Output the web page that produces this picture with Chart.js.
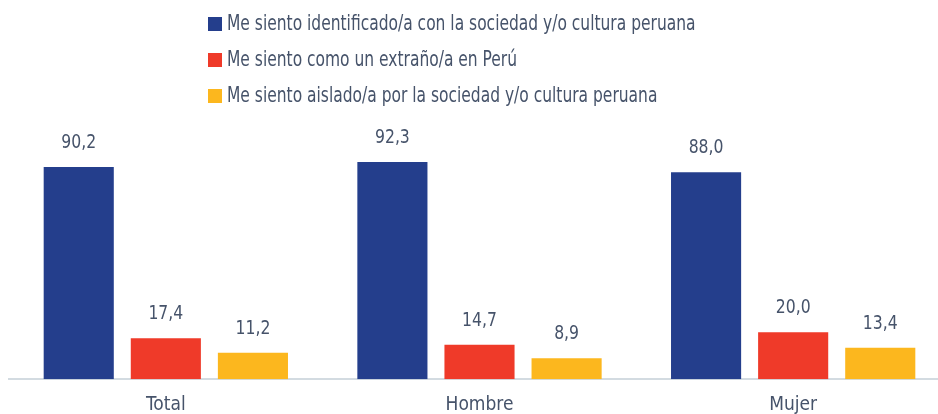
<!DOCTYPE html>
<html>
<head>
<meta charset="utf-8">
<script src="https://cdn.jsdelivr.net/npm/chart.js@4/dist/chart.umd.min.js"></script>
<style>
  html, body { margin: 0; padding: 0; background: #fff; overflow: hidden; }
  #wrap { width: 938px; height: 414px; overflow: hidden; }
</style>
</head>
<body>
<div id="wrap"><canvas id="myChart" width="950" height="430"></canvas></div>
<script>
var categories = ['Total', 'Hombre', 'Mujer'];
var identificadoArray = [90.2, 92.3, 88.0];
var extranoArray = [17.4, 14.7, 20.0];
var aisladoArray = [11.2, 8.9, 13.4];
var seriesNames = [
  'Me siento identificado/a con la sociedad y/o cultura peruana',
  'Me siento como un extraño/a en Perú',
  'Me siento aislado/a por la sociedad y/o cultura peruana'
];

var FONT = "'DejaVu Sans Condensed', 'Liberation Sans Narrow', sans-serif";
var TEXT = '#46536a';

// text squeezed sideways to get closer to the condensed face of the original
function narrowText(ctx, text, x, y, sx) {
  ctx.save();
  ctx.translate(x, y);
  ctx.scale(sx, 1);
  ctx.fillText(text, 0, 0);
  ctx.restore();
}

// value labels over each bar, comma decimals
var valueLabels = {
  id: 'valueLabels',
  afterDatasetsDraw: function(chart) {
    var ctx = chart.ctx;
    ctx.save();
    ctx.font = '20px ' + FONT;
    ctx.fillStyle = TEXT;
    ctx.textAlign = 'center';
    ctx.textBaseline = 'bottom';
    chart.data.datasets.forEach(function(ds, i) {
      chart.getDatasetMeta(i).data.forEach(function(bar, j) {
        narrowText(ctx, ds.data[j].toFixed(1).replace('.', ','), bar.x, bar.y - 14, 0.87);
      });
    });
    ctx.restore();
  }
};

// vertical legend on top
var stackedLegend = {
  id: 'stackedLegend',
  afterDraw: function(chart) {
    var ctx = chart.ctx;
    ctx.save();
    ctx.font = '21px ' + FONT;
    ctx.textBaseline = 'middle';
    chart.data.datasets.forEach(function(ds, i) {
      var y = 24 + i * 36;
      ctx.fillStyle = ds.backgroundColor;
      ctx.fillRect(208, y - 7, 14, 14);
      ctx.fillStyle = TEXT;
      narrowText(ctx, ds.label, 227, y + 1, 0.82);
    });
    ctx.restore();
  }
};

function makeChart() {
  var ctx = document.getElementById('myChart').getContext('2d');
  var myChart = new Chart(ctx, {
    type: 'bar',
    data: {
      labels: categories,
      datasets: [{
        label: seriesNames[0],
        data: identificadoArray,
        backgroundColor: '#243e8c'
      }, {
        label: seriesNames[1],
        data: extranoArray,
        backgroundColor: '#ef3a29'
      }, {
        label: seriesNames[2],
        data: aisladoArray,
        backgroundColor: '#fcb71e'
      }]
    },
    options: {
      responsive: false,
      animation: false,
      layout: { padding: { top: 144, left: 9, right: 0, bottom: 0 } },
      datasets: { bar: { barPercentage: 0.805, categoryPercentage: 0.833 } },
      plugins: { legend: { display: false }, tooltip: { enabled: false } },
      scales: {
        x: {
          grid: { display: false, drawTicks: false },
          border: { display: true, color: '#d3dbe1', width: 2 },
          ticks: { color: TEXT, font: { family: FONT, size: 19 }, padding: 14 }
        },
        y: {
          display: false,
          min: 0,
          max: 100
        }
      }
    },
    plugins: [valueLabels, stackedLegend]
  });
}

makeChart();
</script>
</body>
</html>
